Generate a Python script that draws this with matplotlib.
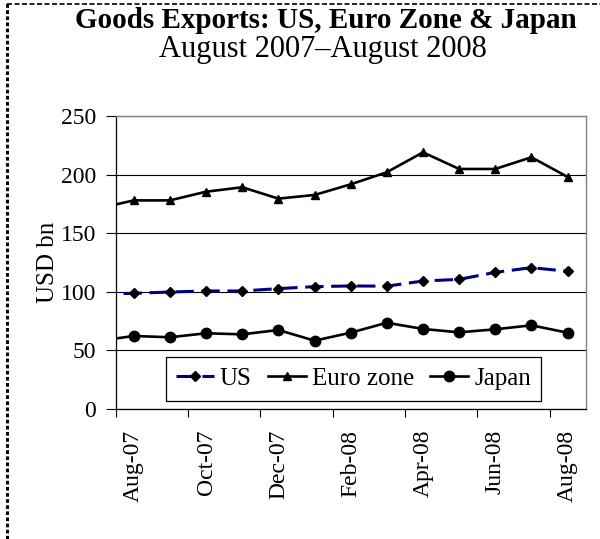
import numpy as np
import matplotlib
matplotlib.use("Agg")
import matplotlib.pyplot as plt
from matplotlib.lines import Line2D

plt.rcParams['font.family'] = ['Liberation Serif', 'DejaVu Serif']

# monthly goods exports, USD bn (first value is Jul-07, only the lead-in segment shows)
months = ['Jul-07', 'Aug-07', 'Sep-07', 'Oct-07', 'Nov-07', 'Dec-07', 'Jan-08',
          'Feb-08', 'Mar-08', 'Apr-08', 'May-08', 'Jun-08', 'Jul-08', 'Aug-08']
us = [98, 98.7, 99.8, 100.7, 100.7, 102.7, 104.4, 105, 104.8, 109.2, 110.6, 116.6, 120.6, 117.5]
euro = [171, 178, 178, 185.4, 189.2, 179.5, 182.6, 191.7, 202, 219, 204.8, 204.8, 214.8, 198]
japan = [58, 62.3, 61.2, 64.6, 63.7, 67.4, 58.3, 65.1, 73.6, 68.3, 65.4, 68, 71.4, 65.1]

x = np.arange(len(months)) - 1  # Aug-07 sits at 0

fig = plt.figure(figsize=(6, 5.39), dpi=100)
ax = fig.add_axes([0.1928, 0.2412, 0.7833, 0.5436])

ax.plot(x, us, color='#000080', lw=2.2, dashes=(6, 2.5), marker='D', ms=5,
        mfc='black', mec='black', label='US')
ax.plot(x, euro, color='black', lw=1.9, marker='^', ms=6, label='Euro zone')
ax.plot(x, japan, color='black', lw=1.9, marker='o', ms=7.5, label='Japan')

ax.set_xlim(-0.5, 12.5)
ax.set_ylim(0, 250)
ax.set_yticks(np.arange(0, 251, 50))
ax.yaxis.grid(True, color='black', lw=0.8)
ax.set_axisbelow(True)
ax.tick_params(axis='y', direction='out', length=7, width=0.8, labelsize=17, pad=7)

# tick marks on category boundaries, labels on every second month
ax.set_xticks(np.arange(-0.5, 12, 2))
ax.set_xticklabels([])
ax.set_xticks(np.arange(0, 13, 2), minor=True)
ax.set_xticklabels(months[1::2], minor=True, rotation=90, fontsize=17)
ax.tick_params(axis='x', which='major', direction='out', length=6, width=0.8)
ax.tick_params(axis='x', which='minor', length=0, pad=15)

for side in ['top', 'right']:
    ax.spines[side].set_color('#808080')
    ax.spines[side].set_linewidth(1.0)
for side in ['left', 'bottom']:
    ax.spines[side].set_color('black')
    ax.spines[side].set_linewidth(0.9)

ax.set_ylabel('USD bn', fontsize=18, labelpad=1.5)

leg = ax.legend(ncol=3, loc='center', bbox_to_anchor=(0.506, 0.103), fontsize=18,
                frameon=True, fancybox=False, framealpha=1, edgecolor='black',
                handlelength=1.5, handletextpad=0.25, columnspacing=0.65,
                borderpad=0.42, borderaxespad=0)
leg.get_frame().set_linewidth(0.9)

fig.text(326 / 600, 1 - 20 / 539, 'Goods Exports: US, Euro Zone & Japan',
         ha='center', va='center', fontsize=21, fontweight='bold')
fig.text(323 / 600, 1 - 49 / 539, 'August 2007\u2013August 2008',
         ha='center', va='center', fontsize=22)

# dashed page border, top and left
fig.add_artist(Line2D([7 / 600, 1], [1 - 3.5 / 539] * 2, transform=fig.transFigure,
                      color='black', lw=1.2, dashes=(3, 1.5)))
fig.add_artist(Line2D([7 / 600] * 2, [0, 1 - 3 / 539], transform=fig.transFigure,
                      color='black', lw=2.2, dashes=(1.2, 0.8)))

fig.savefig('out.png', dpi=100)
